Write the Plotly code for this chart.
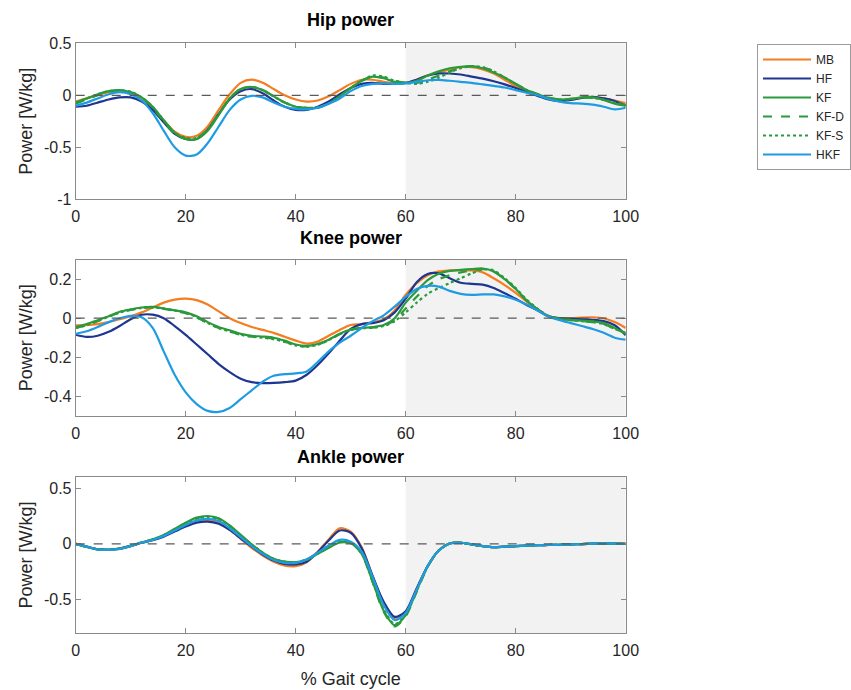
import plotly.graph_objects as go

x_pct = [0, 2, 4, 6, 8, 10, 12, 14, 16, 18, 20, 22, 24, 26, 28, 30, 32, 34, 36, 38, 40,
         42, 44, 46, 48, 50, 52, 54, 56, 58, 60, 62, 64, 66, 68, 70, 72, 74, 76, 78, 80,
         82, 84, 86, 88, 90, 92, 94, 96, 98, 100]

series_names = ["MB", "HF", "KF", "KF-D", "KF-S", "HKF"]
panel_titles = ["Hip power", "Knee power", "Ankle power"]
x_ticks = [0, 20, 40, 60, 80, 100]
hip_ticks = [-1, -0.5, 0, 0.5]
knee_ticks = [-0.4, -0.2, 0, 0.2]
ankle_ticks = [-0.5, 0, 0.5]

# ---------------- Hip power ----------------
hip_MB = [-0.06, -0.03, 0.0, 0.03, 0.04, 0.02, -0.03, -0.12, -0.24, -0.35, -0.40, -0.39, -0.30, -0.14, 0.01,
          0.12, 0.15, 0.12, 0.06, 0.0, -0.04, -0.06, -0.05, -0.01, 0.05, 0.11, 0.15, 0.15, 0.13, 0.12,
          0.12, 0.15, 0.19, 0.22, 0.25, 0.27, 0.27, 0.25, 0.21, 0.15, 0.09, 0.04, 0.0, -0.03, -0.045,
          -0.04, -0.025, -0.015, -0.03, -0.05, -0.075]
hip_HF = [-0.11, -0.10, -0.07, -0.04, -0.02, -0.02, -0.06, -0.14, -0.26, -0.37, -0.42, -0.42, -0.33, -0.18, -0.04,
          0.04, 0.06, 0.02, -0.05, -0.11, -0.14, -0.14, -0.11, -0.06, 0.01, 0.07, 0.11, 0.12, 0.11, 0.11,
          0.12, 0.15, 0.19, 0.21, 0.21, 0.20, 0.18, 0.16, 0.135, 0.105, 0.07, 0.03, -0.005, -0.04, -0.055,
          -0.045, -0.025, -0.015, -0.03, -0.055, -0.10]
hip_KF = [-0.07, -0.03, 0.01, 0.04, 0.05, 0.03, -0.02, -0.11, -0.24, -0.36, -0.42, -0.42, -0.34, -0.19, -0.03,
          0.06, 0.08, 0.05, -0.01, -0.07, -0.11, -0.12, -0.12, -0.08, -0.01, 0.07, 0.14, 0.18, 0.165, 0.13,
          0.12, 0.14, 0.19, 0.23, 0.26, 0.275, 0.28, 0.26, 0.22, 0.17, 0.11, 0.05, 0.01, -0.025, -0.04,
          -0.035, -0.02, -0.02, -0.045, -0.08, -0.10]
hip_KFD = [-0.08, -0.04, 0.0, 0.035, 0.045, 0.03, -0.02, -0.12, -0.25, -0.37, -0.42, -0.41, -0.33, -0.18, -0.03,
           0.06, 0.08, 0.05, -0.01, -0.07, -0.11, -0.125, -0.12, -0.08, -0.01, 0.07, 0.14, 0.18, 0.17, 0.14,
           0.12, 0.12, 0.15, 0.19, 0.23, 0.26, 0.28, 0.27, 0.23, 0.17, 0.11, 0.05, 0.01, -0.025, -0.04,
           -0.035, -0.025, -0.025, -0.045, -0.075, -0.095]
hip_KFS = [-0.07, -0.03, 0.01, 0.04, 0.05, 0.035, -0.02, -0.11, -0.24, -0.36, -0.41, -0.41, -0.33, -0.18, -0.03,
           0.06, 0.08, 0.05, -0.01, -0.07, -0.11, -0.12, -0.115, -0.08, -0.01, 0.07, 0.14, 0.19, 0.18, 0.14,
           0.12, 0.11, 0.13, 0.17, 0.22, 0.26, 0.28, 0.27, 0.23, 0.17, 0.11, 0.05, 0.01, -0.025, -0.04,
           -0.035, -0.025, -0.025, -0.04, -0.07, -0.09]
hip_HKF = [-0.10, -0.07, -0.03, 0.01, 0.03, 0.01, -0.05, -0.17, -0.34, -0.50, -0.58, -0.57, -0.46, -0.30, -0.14,
           -0.04, -0.005, -0.02, -0.07, -0.11, -0.13, -0.135, -0.12, -0.08, -0.03, 0.04, 0.09, 0.11, 0.115, 0.11,
           0.115, 0.13, 0.145, 0.148, 0.14, 0.13, 0.12, 0.105, 0.09, 0.075, 0.05, 0.025, 0.0, -0.035, -0.06,
           -0.075, -0.08, -0.09, -0.11, -0.135, -0.12]

# ---------------- Knee power ----------------
knee_MB = [-0.036, -0.035, -0.03, -0.02, -0.005, 0.01, 0.03, 0.055, 0.08, 0.095, 0.10, 0.093, 0.07, 0.035, 0.0,
           -0.025, -0.045, -0.06, -0.075, -0.095, -0.115, -0.13, -0.12, -0.09, -0.06, -0.035, -0.03, -0.02, -0.005, 0.04,
           0.12, 0.18, 0.22, 0.24, 0.245, 0.247, 0.245, 0.235, 0.205, 0.17, 0.13, 0.085, 0.045, 0.01, 0.0,
           0.0, 0.003, 0.005, 0.0, -0.02, -0.05]
knee_HF = [-0.085, -0.096, -0.09, -0.07, -0.04, -0.005, 0.018, 0.018, 0.0, -0.04, -0.085, -0.135, -0.185, -0.235, -0.276,
           -0.31, -0.328, -0.333, -0.332, -0.328, -0.32, -0.29, -0.24, -0.18, -0.115, -0.055, -0.03, -0.025, -0.01, 0.03,
           0.10, 0.185, 0.227, 0.23, 0.205, 0.182, 0.176, 0.172, 0.155, 0.128, 0.10, 0.068, 0.04, 0.01, 0.0,
           -0.002, -0.005, -0.008, -0.015, -0.036, -0.087]
knee_KF = [-0.045, -0.03, -0.01, 0.01, 0.033, 0.045, 0.055, 0.058, 0.05, 0.04, 0.03, 0.01, -0.02, -0.045, -0.062,
           -0.08, -0.09, -0.094, -0.10, -0.115, -0.135, -0.142, -0.132, -0.11, -0.08, -0.058, -0.05, -0.045, -0.035, 0.0,
           0.08, 0.14, 0.195, 0.228, 0.243, 0.248, 0.252, 0.255, 0.24, 0.20, 0.15, 0.09, 0.045, 0.01, -0.002,
           -0.008, -0.012, -0.016, -0.025, -0.05, -0.08]
knee_KFD = [-0.05, -0.035, -0.015, 0.008, 0.03, 0.043, 0.053, 0.055, 0.048, 0.038, 0.026, 0.005, -0.025, -0.05, -0.068,
            -0.085, -0.094, -0.098, -0.105, -0.12, -0.138, -0.145, -0.135, -0.112, -0.082, -0.06, -0.052, -0.048, -0.038, -0.01,
            0.05, 0.11, 0.165, 0.20, 0.22, 0.235, 0.245, 0.252, 0.24, 0.20, 0.15, 0.09, 0.045, 0.01, -0.005,
            -0.01, -0.015, -0.02, -0.03, -0.055, -0.075]
knee_KFS = [-0.05, -0.035, -0.015, 0.008, 0.03, 0.043, 0.053, 0.056, 0.05, 0.04, 0.028, 0.005, -0.025, -0.05, -0.068,
            -0.085, -0.095, -0.10, -0.108, -0.122, -0.14, -0.146, -0.136, -0.112, -0.082, -0.06, -0.052, -0.048, -0.04, -0.015,
            0.03, 0.08, 0.125, 0.155, 0.18, 0.205, 0.23, 0.25, 0.245, 0.205, 0.155, 0.095, 0.048, 0.012, -0.005,
            -0.01, -0.015, -0.02, -0.03, -0.055, -0.075]
knee_HKF = [-0.08, -0.067, -0.045, -0.02, 0.0, 0.012, 0.005, -0.05, -0.17, -0.29, -0.38, -0.44, -0.475, -0.48, -0.46,
            -0.415, -0.37, -0.325, -0.295, -0.287, -0.283, -0.273, -0.225, -0.17, -0.125, -0.09, -0.05, -0.015, 0.015, 0.06,
            0.11, 0.15, 0.166, 0.162, 0.14, 0.125, 0.12, 0.122, 0.122, 0.112, 0.095, 0.07, 0.04, 0.008, -0.01,
            -0.025, -0.04, -0.055, -0.075, -0.10, -0.11]

# ---------------- Ankle power ----------------
ankle_MB = [0.0, -0.025, -0.05, -0.055, -0.045, -0.02, 0.01, 0.035, 0.07, 0.12, 0.17, 0.205, 0.215, 0.19, 0.125,
            0.045, -0.035, -0.105, -0.16, -0.195, -0.20, -0.165, -0.07, 0.04, 0.14, 0.11, -0.03, -0.29, -0.53, -0.665,
            -0.61, -0.40, -0.20, -0.06, 0.005, 0.01, -0.005, -0.02, -0.03, -0.025, -0.02, -0.015, -0.012, -0.01, -0.008,
            -0.005, -0.002, 0.002, 0.004, 0.002, 0.0]
ankle_HF = [0.0, -0.025, -0.048, -0.052, -0.042, -0.018, 0.01, 0.033, 0.065, 0.11, 0.155, 0.19, 0.20, 0.18, 0.125,
            0.05, -0.025, -0.095, -0.15, -0.18, -0.185, -0.16, -0.075, 0.03, 0.12, 0.10, -0.04, -0.29, -0.52, -0.655,
            -0.605, -0.40, -0.20, -0.06, 0.003, 0.01, -0.005, -0.02, -0.03, -0.025, -0.02, -0.015, -0.012, -0.01, -0.008,
            -0.005, -0.002, 0.002, 0.004, 0.002, 0.0]
ankle_KF = [0.0, -0.028, -0.05, -0.053, -0.043, -0.018, 0.013, 0.04, 0.08, 0.135, 0.19, 0.235, 0.25, 0.23, 0.165,
            0.08, -0.005, -0.08, -0.135, -0.16, -0.165, -0.14, -0.09, -0.035, 0.012, 0.005, -0.09, -0.34, -0.60, -0.73,
            -0.64, -0.42, -0.20, -0.06, 0.003, 0.01, -0.005, -0.02, -0.03, -0.025, -0.02, -0.015, -0.012, -0.01, -0.008,
            -0.005, -0.002, 0.002, 0.004, 0.002, 0.0]
ankle_KFD = [0.0, -0.027, -0.049, -0.052, -0.042, -0.018, 0.012, 0.038, 0.077, 0.13, 0.185, 0.23, 0.245, 0.226, 0.162,
             0.078, -0.007, -0.082, -0.137, -0.162, -0.167, -0.142, -0.09, -0.033, 0.015, 0.008, -0.09, -0.345, -0.61, -0.74,
             -0.65, -0.43, -0.205, -0.062, 0.002, 0.01, -0.005, -0.02, -0.03, -0.025, -0.02, -0.015, -0.012, -0.01, -0.008,
             -0.005, -0.002, 0.002, 0.004, 0.002, 0.0]
ankle_KFS = [0.0, -0.027, -0.05, -0.053, -0.043, -0.018, 0.012, 0.038, 0.076, 0.128, 0.182, 0.226, 0.24, 0.222, 0.16,
             0.077, -0.006, -0.08, -0.134, -0.16, -0.165, -0.14, -0.088, -0.03, 0.02, 0.012, -0.085, -0.335, -0.59, -0.72,
             -0.635, -0.42, -0.2, -0.06, 0.003, 0.01, -0.005, -0.02, -0.03, -0.025, -0.02, -0.015, -0.012, -0.01, -0.008,
             -0.005, -0.002, 0.002, 0.004, 0.002, 0.0]
ankle_HKF = [0.0, -0.025, -0.05, -0.055, -0.045, -0.02, 0.012, 0.035, 0.07, 0.12, 0.17, 0.21, 0.225, 0.205, 0.14,
             0.06, -0.02, -0.09, -0.145, -0.17, -0.17, -0.14, -0.08, -0.015, 0.035, 0.02, -0.07, -0.30, -0.55, -0.685,
             -0.62, -0.41, -0.20, -0.06, 0.003, 0.01, -0.005, -0.02, -0.03, -0.025, -0.02, -0.015, -0.012, -0.01, -0.008,
             -0.005, -0.002, 0.002, 0.004, 0.002, 0.0]

hip = [hip_MB, hip_HF, hip_KF, hip_KFD, hip_KFS, hip_HKF]
knee = [knee_MB, knee_HF, knee_KF, knee_KFD, knee_KFS, knee_HKF]
ankle = [ankle_MB, ankle_HF, ankle_KF, ankle_KFD, ankle_KFS, ankle_HKF]

colors = ["#f47d20", "#1f3690", "#2a9a3c", "#2a9a3c", "#2a9a3c", "#1e9be3"]
dashes = ["solid", "solid", "solid", "dash", "dot", "solid"]

FONT = "Liberation Sans, Arial, Helvetica, sans-serif"
TXT = "#262626"
AXC = "#8a8a8a"

fig = go.Figure()

panels = [(hip, [-1, 0.5], hip_ticks), (knee, [-0.5, 0.3], knee_ticks), (ankle, [-0.8, 0.6], ankle_ticks)]
ydomains = [[0.7112, 0.9372], [0.3975, 0.6236], [0.0826, 0.3087]]
xdomain = [75.7 / 851, 625.7 / 851]

for p, (data, yr, yt) in enumerate(panels):
    xa = "x" if p == 0 else f"x{p + 1}"
    ya = "y" if p == 0 else f"y{p + 1}"
    for i, name in enumerate(series_names):
        fig.add_trace(go.Scatter(
            x=x_pct, y=data[i], mode="lines", name=name,
            line=dict(color=colors[i], width=2.2, dash=dashes[i], shape="spline", smoothing=0.8),
            xaxis=xa, yaxis=ya, legendgroup=name, showlegend=(p == 0),
        ))
    # shaded swing phase
    fig.add_shape(type="rect", xref=xa, yref=f"{ya} domain", x0=60, x1=100, y0=0, y1=1,
                  fillcolor="#f2f2f2", line=dict(width=0), layer="below")
    # zero reference line
    fig.add_shape(type="line", xref=xa, yref=ya, x0=0, x1=100, y0=0, y1=0,
                  line=dict(color="#5a5a5a", width=1.3, dash="dash"), layer="above")
    axkey = "" if p == 0 else str(p + 1)
    fig.update_layout(**{
        f"xaxis{axkey}": dict(
            domain=xdomain, anchor=ya, range=[0, 100], tickvals=x_ticks, automargin=False,
            ticks="inside", ticklen=5, tickcolor=AXC, showline=True, linecolor=AXC, linewidth=1,
            mirror="ticks", showgrid=False, zeroline=False, ticklabelstandoff=3,
            tickfont=dict(family=FONT, size=16, color=TXT),
            title=dict(text="% Gait cycle" if p == 2 else "", font=dict(family=FONT, size=18, color=TXT), standoff=14),
        ),
        f"yaxis{axkey}": dict(
            domain=ydomains[p], anchor=xa, range=yr, tickvals=yt, automargin=False,
            ticktext=[("%g" % v) for v in yt],
            ticks="inside", ticklen=5, tickcolor=AXC, showline=True, linecolor=AXC, linewidth=1,
            mirror="ticks", showgrid=False, zeroline=False,
            tickfont=dict(family=FONT, size=16, color=TXT),
            title=dict(text="Power [W/kg]", font=dict(family=FONT, size=18, color=TXT), standoff=6),
        ),
    })

# panel titles
title_y = [1 - 20 / 690, 1 - 238 / 690, 1 - 457 / 690]
for t, yy in zip(panel_titles, title_y):
    fig.add_annotation(text=f"<b>{t}</b>", xref="paper", yref="paper",
                       x=(xdomain[0] + xdomain[1]) / 2, y=yy, xanchor="center", yanchor="middle",
                       showarrow=False, font=dict(family=FONT, size=18, color="#000000"))

fig.update_layout(
    width=851, height=690,
    margin=dict(l=0, r=0, t=0, b=0, autoexpand=False),
    paper_bgcolor="white", plot_bgcolor="white",
    showlegend=True,
    legend=dict(x=757 / 851, y=1 - 44 / 690, xanchor="left", yanchor="top",
                bordercolor="#9a9a9a", borderwidth=1, bgcolor="white",
                font=dict(family=FONT, size=12, color=TXT), tracegroupgap=0,
                itemwidth=48),
)

fig.write_html("out.html", config={"displayModeBar": False},
               post_script="document.body.style.margin='0px';document.body.style.overflow='hidden';")
